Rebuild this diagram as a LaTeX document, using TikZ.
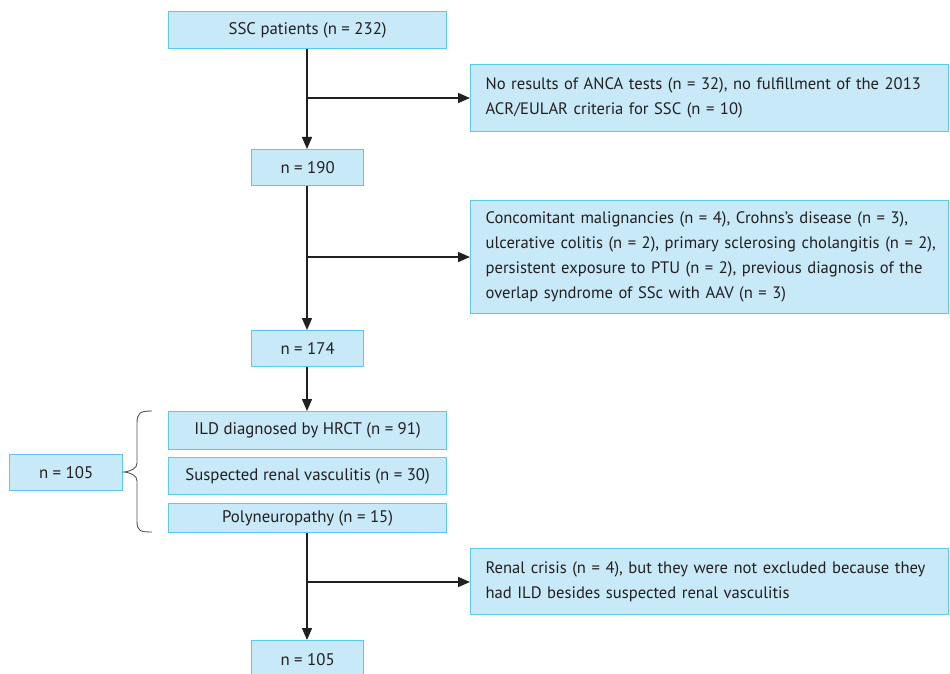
\documentclass[tikz,border=0pt]{standalone}
\usepackage{fontspec}
\setmainfont{PT Sans}
\usetikzlibrary{arrows.meta}
\definecolor{boxfill}{HTML}{C8E9F8}
\definecolor{boxline}{HTML}{5BC8EE}
\definecolor{ink}{HTML}{231F20}
\definecolor{bracecol}{HTML}{555555}
\tikzset{
  flowbox/.style={draw=boxline, fill=boxfill, line width=1.2pt, text=ink,
    font=\fontsize{16.8}{20}\selectfont, inner sep=0pt, anchor=north west},
  notebox/.style={flowbox, align=left, inner xsep=15pt, inner ysep=0pt,
    font=\fontsize{16.6}{25}\selectfont},
  flowarrow/.style={draw=ink, line width=1.4pt, -{Triangle[length=12pt,width=10pt]}},
  flowline/.style={draw=ink, line width=1.4pt}
}
\begin{document}
\begin{tikzpicture}[x=1pt,y=-1pt]
\useasboundingbox (0,0) rectangle (950,674);
\clip (0,0) rectangle (950,674);
% main column boxes
\node[flowbox, minimum width=278pt, minimum height=37pt] (b1) at (168,11) {SSC patients (n = 232)};
\node[flowbox, minimum width=112pt, minimum height=36pt] (b2) at (251,149) {n = 190};
\node[flowbox, minimum width=112pt, minimum height=36pt] (b3) at (251,330) {n = 174};
\node[flowbox, minimum width=278pt, minimum height=38pt] (ild) at (168,411) {ILD diagnosed by HRCT (n = 91)};
\node[flowbox, minimum width=278pt, minimum height=37pt] (ren) at (168,457) {Suspected renal vasculitis (n = 30)};
\node[flowbox, minimum width=278pt, minimum height=29pt] (pol) at (168,503) {Polyneuropathy (n = 15)};
\node[flowbox, minimum width=112pt, minimum height=38pt] (b4) at (251,640) {n = 105};
\node[flowbox, minimum width=113pt, minimum height=36pt] (left) at (9,454) {n = 105};
% side notes
\node[notebox, minimum width=478pt, minimum height=67pt, text width=448pt] (r1) at (470,64)
  {\mbox{No results of ANCA tests (n = 32), no fulfillment of the 2013}\\\mbox{ACR/EULAR criteria for SSC (n = 10)}};
\node[notebox, minimum width=478pt, minimum height=113pt, text width=448pt] (r2) at (470,200)
  {\mbox{Concomitant malignancies (n = 4), Crohns's disease (n = 3),}\\\mbox{ulcerative colitis (n = 2), primary sclerosing cholangitis (n = 2),}\\\mbox{persistent exposure to PTU (n = 2), previous diagnosis of the}\\\mbox{overlap syndrome of SSc with AAV (n = 3)}};
\node[notebox, minimum width=478pt, minimum height=66pt, text width=448pt] (r3) at (470,548)
  {\mbox{Renal crisis (n = 4), but they were not excluded because they}\\\mbox{had ILD besides suspected renal vasculitis}};
% branch points
\coordinate (j1) at (307,98);
\coordinate (j2) at (307,257);
\coordinate (j3) at (307,582);
% connectors
\draw[flowarrow] (b1.south -| j1) -- (b2.north -| j1);
\draw[flowarrow] (j1) -- (r1.west |- j1);
\draw[flowarrow] (b2.south -| j2) -- (b3.north -| j2);
\draw[flowarrow] (j2) -- (r2.west |- j2);
\draw[flowarrow] (b3.south -| j2) -- (ild.north -| j2);
\draw[flowarrow] (pol.south -| j3) -- (b4.north -| j3);
\draw[flowarrow] (j3) -- (r3.west |- j3);
% brace
\coordinate (bt) at (152,411);
\coordinate (bb) at (152,532);
\coordinate (btip) at (124,472);
\draw[bracecol, line width=0.9pt]
  (bt) .. controls (140,411) and (137,413) .. (137,423) -- (137,463)
  .. controls (137,468) and (132,471) .. (btip)
  .. controls (132,473) and (137,476) .. (137,481) -- (137,521)
  .. controls (137,531) and (140,532) .. (bb);
\end{tikzpicture}
\end{document}
